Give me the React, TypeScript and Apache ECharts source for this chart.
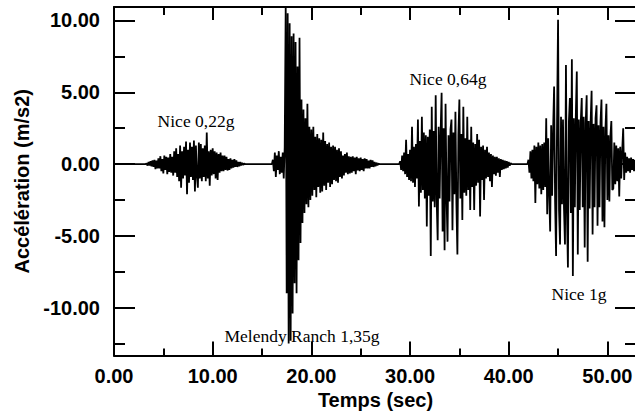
import React, { useEffect, useRef } from "react";
import * as echarts from "echarts";

// Sampling step of the hand-read records (seconds)
const STEP = 0.1;

// Nice 0,22g record (starts at 3.3 s)
const nice022Start = 3.3;
const nice022 = [
  0.05, -0.1, 0.15, -0.1, 0.2, -0.15, 0.25,
  -0.2, 0.3, -0.35, 0.25, -0.3, 0.4, -0.3,
  0.55, -0.5, 0.35, -0.65, 0.6, -0.4, 0.5,
  -0.7, 0.45, -0.55, 0.7, -0.6, 0.5,
  -0.8, 0.9, -0.6, 1.1, -0.9, 0.7, -1.2, 1.3, -1.65, 0.9,
  -1.0, 1.2, -0.8, 1.57, -2.1, 1.0, -1.3, 1.5, -0.9, 1.2,
  -1.1, 1.65, -1.9, 1.3, -0.8, -1.65, 1.5, -1.0, 1.4, -1.2,
  1.1, -0.9, 1.3, -1.2, 2.2, -1.0, 0.9, -1.5, 1.0, -0.8,
  1.1, -0.7, 0.9, -1.0, 0.8, -1.1, 0.7, -0.6, 0.8, -0.5,
  0.6, -0.5, 0.6, -0.4, 0.5, -0.45, 0.35, -0.4, 0.4, -0.3,
  0.3, -0.25, 0.35, -0.2, 0.25, -0.2, 0.15, -0.15, 0.15, -0.1,
  0.08, -0.05, 0.03,
];

// Melendy Ranch 1,35g record (starts at 16.1 s)
const melendyStart = 16.1;
const melendy = [
  0.3, -0.5, 0.8, -0.9, 0.6, -0.4, 0.9, -0.7, 0.5,
  -0.6, 0.8, -1.0, 1.2,
  10.9, -9.0, 10.5, -12.5, 9.8, -12.3, 8.9,
  -10.4, 9.1, -8.3, 8.5, -9.0,
  6.8, -6.7, 8.8, -5.5,
  4.5, -4.1, 3.8, -3.4, 3.2, -2.8, 4.2, -3.0, 2.6, -2.5,
  2.4, -2.2, 2.6, -1.8, 1.9, -2.3, 2.1, -1.6, 1.8, -2.0,
  1.7, -1.9, 2.2, -1.5, 1.6, -1.8, 1.4, -1.3, 1.5, -1.6,
  1.2, -1.4, 1.3, -1.1, 1.2, -1.2, 1.0, -1.3, 1.1, -0.9,
  0.9, -1.0, 0.6, -0.8, 0.7, -0.6, 0.8, -0.7, 0.55, -0.65,
  0.5, -0.6, 0.55, -0.5, 0.45, -0.7, 0.5, -0.45, 0.4, -0.5,
  0.45, -0.4, 0.35, -0.5, 0.4, -0.3, 0.35, -0.3, 0.25, -0.3,
  0.3, -0.2, 0.25, -0.2, 0.15, -0.15, 0.1, -0.08, 0.03,
];

// Nice 0,64g record (starts at 29.0 s)
const nice064Start = 29.0;
const nice064 = [
  0.2, -0.4, 0.6, -0.5, 0.8, -0.7, 1.7, -0.9, 0.7, -1.1,
  1.0, -1.2, 2.6, -1.3, 1.2, -1.6, 1.4, -1.0, 3.1, -2.95,
  1.6, -2.0, 3.3, -1.8, 2.2, -2.4, 2.0, -4.35, 1.9, -2.2,
  2.4, -6.4, 4.0, -2.6, 2.3, -3.0, 4.8, -2.5, -5.3, 2.6,
  -2.4, 2.2, 4.96, -4.7, 2.5, -6.0, 4.2, -2.3, -5.4, 2.0,
  -2.6, 2.4, 3.1, -4.6, 2.2, -2.1, 3.65, -2.8, -6.3, 2.0,
  4.5, -2.4, 2.1, -3.9, 4.0, -2.0, 1.8, -2.2, 3.3, -1.8,
  1.7, -3.2, 2.6, -1.6, 1.5, -3.2, 1.4, -1.5, 2.1, -1.3,
  1.7, -3.65, 1.2, -1.1, 1.3, -2.5, 1.0, -1.0, 1.2, -0.9,
  0.8, -1.2, 0.7, -1.6, 0.6, -0.7, 0.5, -0.8, 0.5, -0.6,
  0.4, -0.9, 0.35, -0.4, 0.3, -0.35, 0.25, -0.3, 0.2, -0.25,
  0.15, -0.1, 0.06, 0,
];

// Nice 1g record (starts at 42.0 s)
const nice1gStart = 42.0;
const nice1g = [
  0.3, -0.6, 0.9, -1.0, 1.0, -1.2, 1.3, -2.7, 1.2, -1.4,
  1.5, -1.7, 1.3, -2.1, 1.4, -1.8, 1.5, -1.6, 3.2, -3.5,
  1.8, -2.0, -4.7, 2.7, -2.2, 2.4, 5.4, -2.6, -6.4, 3.0,
  10.05, -3.2, -5.6, 3.3, -2.8, 3.1, -3.0, -5.6, 6.9, -3.3,
  -7.2, 3.0, 4.6, -3.4, 7.3, -7.8, 3.2, -3.0, 3.4, 6.45,
  -6.3, 3.1, -3.2, 2.9, 4.6, -3.0, 3.3, -5.8, 2.8, 4.8,
  -6.8, 3.0, -3.1, 2.9, 5.1, -4.9, 2.8, -3.0, 3.2, 4.1,
  -4.3, 2.7, -3.0, 2.9, 4.5, -4.0, 2.6, -4.4, 2.4, 4.2,
  -2.5, 2.0, -2.6, 1.9, 3.0, -1.8, -1.7, 1.5, -1.4, 1.3,
  -1.2, 1.1, -2.25, 1.2, -1.0, 0.9, 2.5, -1.1, 0.8, -0.6,
  0.5, -0.5, 0.4, -0.6, 0.45, -0.4, 0.35, -0.5, 0.3, -0.4,
];

const X_MIN = 0;
const X_MAX = 53;
const Y_MIN = -13.33;
const Y_MAX = 10.94;
const xTicksMajor = [0, 10, 20, 30, 40, 50];
const xTicksMinor = [5, 15, 25, 35, 45];
const yTicksMajor = [-10, -5, 0, 5, 10];
const yTicksMinor = [-12.5, -7.5, -2.5, 2.5, 7.5];

const annotations = [
  { text: "Nice 0,22g", x: 196, y: 120.5 },
  { text: "Melendy Ranch 1,35g", x: 302, y: 335.5 },
  { text: "Nice 0,64g", x: 448, y: 79 },
  { text: "Nice 1g", x: 579, y: 294 },
];

function buildData(): number[][] {
  const out: number[][] = [[X_MIN, 0]];
  const records: [number, number[]][] = [
    [nice022Start, nice022],
    [melendyStart, melendy],
    [nice064Start, nice064],
    [nice1gStart, nice1g],
  ];
  records.forEach(([start, vals]) => {
    out.push([+(start - STEP).toFixed(2), 0]);
    vals.forEach((v, i) => out.push([+(start + i * STEP).toFixed(2), v]));
    out.push([+(start + vals.length * STEP).toFixed(2), 0]);
  });
  out.push([X_MAX, 0]);
  return out;
}

export default function App() {
  const ref = useRef<HTMLDivElement>(null);
  useEffect(() => {
    document.body.style.margin = "0";
    const chart = echarts.init(ref.current!, null, { renderer: "svg" });
    const gridRect = { left: 114, top: 7, width: 523, height: 348.5, outerBoundsMode: "none", containLabel: false };
    const black = "#000";
    const labelFont = {
      color: black,
      fontFamily: "'Liberation Sans', Arial, sans-serif",
      fontWeight: "bold" as const,
      fontSize: 20,
    };
    const fmt = (v: number) => v.toFixed(2);
    const tick = (vals: number[], len: number) => ({
      show: true,
      inside: true,
      length: len,
      customValues: vals,
      lineStyle: { color: black, width: 2 },
    });
    const baseX = (grid: number, position: string, showLine: boolean) => ({
      type: "value" as const,
      gridIndex: grid,
      position,
      min: X_MIN,
      max: X_MAX,
      splitLine: { show: false },
      axisLine: { show: showLine, onZero: false, lineStyle: { color: black, width: 2 } },
    });
    const baseY = (grid: number, position: string, showLine: boolean) => ({
      type: "value" as const,
      gridIndex: grid,
      position,
      min: Y_MIN,
      max: Y_MAX,
      splitLine: { show: false },
      axisLine: { show: showLine, onZero: false, lineStyle: { color: black, width: 2 } },
    });

    chart.setOption({
      animation: false,
      backgroundColor: "#fff",
      grid: [gridRect, gridRect, gridRect, gridRect],
      xAxis: [
        {
          ...baseX(0, "bottom", true),
          axisTick: tick(xTicksMajor, 14),
          axisLabel: { ...labelFont, customValues: xTicksMajor, formatter: fmt, margin: 10 },
          name: "Temps (sec)",
          nameLocation: "middle",
          nameGap: 32,
          nameTextStyle: { ...labelFont },
        },
        { ...baseX(1, "bottom", false), axisTick: tick(xTicksMinor, 7), axisLabel: { show: false } },
        { ...baseX(2, "top", true), axisTick: tick(xTicksMajor, 13), axisLabel: { show: false } },
        { ...baseX(3, "top", false), axisTick: tick(xTicksMinor, 8), axisLabel: { show: false } },
      ],
      yAxis: [
        {
          ...baseY(0, "left", true),
          axisTick: tick(yTicksMajor, 21),
          axisLabel: { ...labelFont, customValues: yTicksMajor, formatter: fmt, margin: 14 },
          name: "Accélération (m/s2)",
          nameLocation: "middle",
          nameRotate: 90,
          nameGap: 81,
          nameTextStyle: { ...labelFont },
        },
        { ...baseY(1, "left", false), axisTick: tick(yTicksMinor, 11), axisLabel: { show: false } },
        { ...baseY(2, "right", true), axisTick: tick(yTicksMajor, 22), axisLabel: { show: false } },
        { ...baseY(3, "right", false), axisTick: tick(yTicksMinor, 12), axisLabel: { show: false } },
      ],
      series: [
        {
          type: "line",
          xAxisIndex: 0,
          yAxisIndex: 0,
          data: buildData(),
          symbol: "none",
          showSymbol: false,
          silent: true,
          lineStyle: { color: black, width: 1.8 },
        },
      ],
      graphic: annotations.map((a) => ({
        type: "text",
        x: a.x,
        y: a.y,
        silent: true,
        z: 100,
        style: {
          text: a.text,
          fill: black,
          fontSize: 17.5,
          fontFamily: "'Liberation Serif', 'Times New Roman', serif",
          align: "center",
          verticalAlign: "middle",
        },
      })),
    });
    return () => chart.dispose();
  }, []);
  return <div ref={ref} style={{ width: 635, height: 414, position: "absolute", left: 0, top: 0 }} />;
}
